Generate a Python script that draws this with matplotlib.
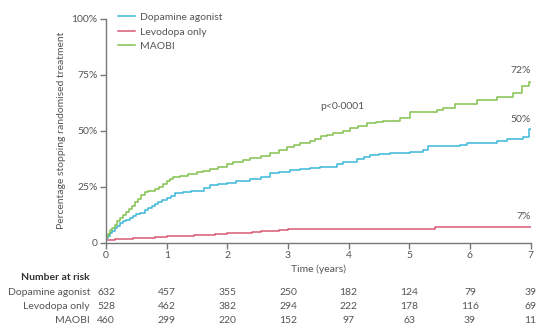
import matplotlib
matplotlib.use("Agg")
import matplotlib.pyplot as plt
from matplotlib.transforms import blended_transform_factory

plt.rcParams['font.family'] = ['Lato', 'DejaVu Sans']

# Kaplan-Meier style curves (years, % stopped)
da_t = [0, 0.03, 0.07, 0.1, 0.14, 0.18, 0.23, 0.28, 0.33, 0.4, 0.45, 0.5, 0.56, 0.64,
        0.7, 0.75, 0.8, 0.86, 0.93, 1.0, 1.07, 1.14, 1.27, 1.4, 1.55, 1.62, 1.71, 1.85,
        2.0, 2.15, 2.37, 2.55, 2.7, 2.85, 3.03, 3.2, 3.36, 3.53, 3.8, 3.91, 4.13, 4.25,
        4.35, 4.5, 4.68, 5.01, 5.23, 5.31, 5.84, 5.95, 6.44, 6.61, 6.88, 6.98, 7.0]
da_y = [2.0, 3.0, 4.3, 5.3, 6.5, 7.6, 8.6, 9.5, 10.3, 11.2, 11.9, 12.6, 13.3, 14.5,
        15.4, 16.4, 17.3, 18.2, 18.9, 20.0, 21.0, 22.0, 22.8, 23.2, 23.3, 24.6, 25.6, 26.0,
        26.8, 27.5, 28.3, 29.5, 30.9, 31.6, 32.5, 33.0, 33.4, 33.9, 35.0, 36.2, 37.2, 38.2,
        39.0, 39.6, 40.2, 40.6, 41.4, 43.2, 43.6, 44.4, 45.4, 46.3, 47.3, 50.6, 50.6]

ldopa_t = [0, 0.15, 0.3, 0.45, 0.6, 0.8, 1.0, 1.15, 1.3, 1.45, 1.6, 1.8, 2.0, 2.2, 2.4,
           2.55, 2.7, 2.85, 3.0, 3.8, 5.42, 7.0]
ldopa_y = [1.2, 1.5, 1.8, 2.0, 2.3, 2.5, 2.8, 3.0, 3.2, 3.4, 3.6, 3.9, 4.2, 4.4, 4.6,
           5.0, 5.4, 5.7, 6.0, 6.3, 7.0, 7.0]

maobi_t = [0, 0.03, 0.07, 0.1, 0.14, 0.18, 0.23, 0.28, 0.33, 0.38, 0.43, 0.48, 0.53, 0.58,
           0.64, 0.7, 0.8, 0.87, 0.94, 1.0, 1.05, 1.1, 1.22, 1.35, 1.5, 1.6, 1.71, 1.85,
           2.0, 2.1, 2.25, 2.37, 2.55, 2.7, 2.85, 2.98, 3.1, 3.2, 3.36, 3.45, 3.55, 3.65,
           3.75, 3.9, 4.02, 4.15, 4.3, 4.45, 4.57, 4.85, 5.01, 5.45, 5.56, 5.75, 6.11, 6.44,
           6.71, 6.85, 6.98, 7.0]
maobi_y = [2.7, 3.8, 5.5, 6.6, 8.0, 9.6, 11.0, 12.5, 13.6, 15.0, 16.5, 18.0, 19.6, 21.2,
           22.8, 23.3, 23.8, 24.8, 26.2, 27.5, 28.6, 29.4, 29.8, 30.5, 31.5, 32.0, 32.8, 34.0,
           35.3, 35.9, 36.8, 37.7, 38.8, 39.9, 41.5, 42.9, 43.8, 44.6, 45.5, 46.5, 47.5, 48.3,
           49.1, 50.0, 51.0, 52.2, 53.3, 54.0, 54.5, 55.5, 58.2, 59.2, 60.3, 61.8, 63.7, 65.2,
           67.0, 70.0, 71.9, 71.9]

groups = ["Dopamine agonist", "Levodopa only", "MAOBI"]
colors = ["#3cb8d9", "#d95a72", "#82c250"]
end_labels = ["50%", "7%", "72%"]

risk_times = [0, 1, 2, 3, 4, 5, 6, 7]
at_risk = {
    "Dopamine agonist": [632, 457, 355, 250, 182, 124, 79, 39],
    "Levodopa only": [528, 462, 382, 294, 222, 178, 116, 69],
    "MAOBI": [460, 299, 220, 152, 97, 63, 39, 11],
}

text_col = "#555555"
axis_col = "#777777"

fig = plt.figure(figsize=(5.36, 3.27), dpi=100)
ax = fig.add_axes([0.1978, 0.2578, 0.7922, 0.685])

curves = [(da_t, da_y), (ldopa_t, ldopa_y), (maobi_t, maobi_y)]
for (t, y), name, c in zip(curves, groups, colors):
    ax.step(t, y, where="post", color=c, lw=1.1, label=name)

ax.set_xlim(0, 7)
ax.set_ylim(0, 100)
ax.set_xticks(risk_times)
ax.set_yticks([0, 25, 50, 75, 100])
ax.set_yticklabels(["0", "25%", "50%", "75%", "100%"])
for s in ["top", "right"]:
    ax.spines[s].set_visible(False)
for s in ["left", "bottom"]:
    ax.spines[s].set_color(axis_col)
    ax.spines[s].set_linewidth(1.0)
ax.tick_params(colors=axis_col, labelcolor=text_col, labelsize=7.5, length=4, width=1.0, pad=2)
ax.set_ylabel("Percentage stopping randomised treatment", fontsize=7.5, color=text_col, labelpad=4)

# end-of-curve labels
end_y = [55.1, 11.9, 76.7]
for lab, yy in zip(end_labels, end_y):
    ax.text(7.0, yy, lab, ha="right", va="center", fontsize=7.5, color=text_col)
ax.text(3.53, 61, "p<0·0001", ha="left", va="center", fontsize=7.5, color=text_col)

leg = ax.legend(loc="upper left", bbox_to_anchor=(0.019, 1.045), frameon=False, fontsize=7.5,
                handlelength=1.65, handletextpad=0.4, labelspacing=0.5, borderaxespad=0)
for txt in leg.get_texts():
    txt.set_color(text_col)

# time label and number-at-risk table
tr = blended_transform_factory(ax.transData, fig.transFigure)
ax.text(3.5, 0.177, "Time (years)", transform=tr, ha="center", va="center", fontsize=7.5, color=text_col)
ax.text(-0.264, 0.152, "Number at risk", transform=tr, ha="right", va="center",
        fontsize=7.5, fontweight="bold", color="#333333")
row_y = [0.105, 0.062, 0.019]
for name, ry in zip(groups, row_y):
    ax.text(-0.264, ry, name, transform=tr, ha="right", va="center", fontsize=7.5, color=text_col)
    for t, n in zip(risk_times, at_risk[name]):
        ax.text(t, ry, str(n), transform=tr, ha="center", va="center", fontsize=7.5, color=text_col)

fig.savefig("out.png", dpi=100)
